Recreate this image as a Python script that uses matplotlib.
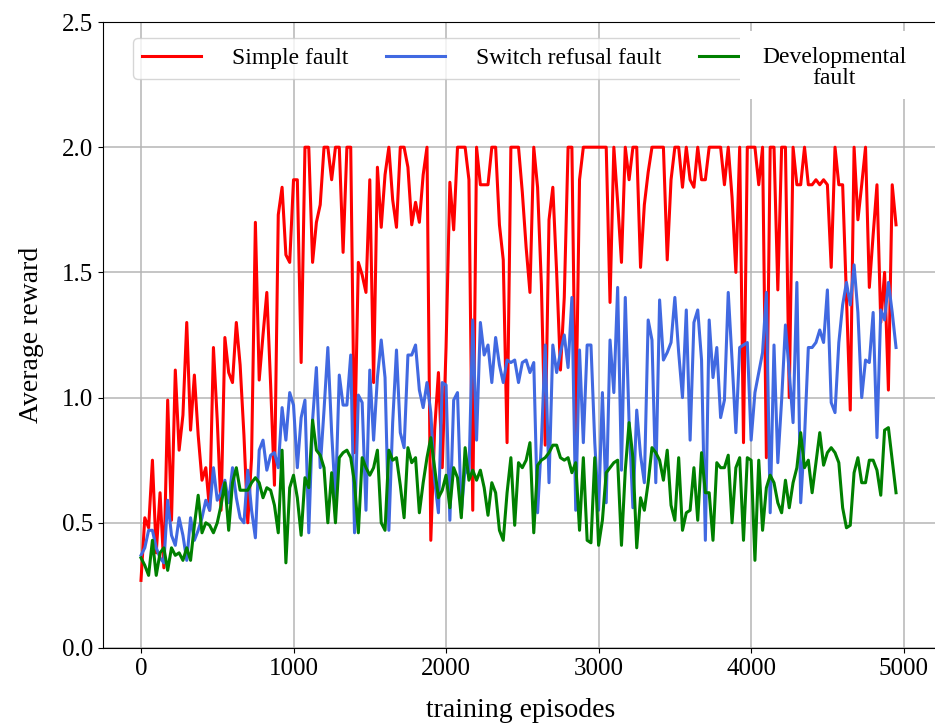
import numpy as np
import matplotlib
matplotlib.use('Agg')
import matplotlib.pyplot as plt
from matplotlib.patches import Rectangle

# logged every 25 training episodes
episodes = np.arange(0, 4975, 25)

simple_fault = [
    0.27, 0.52, 0.48, 0.75, 0.38, 0.62, 0.32, 0.99, 0.51, 1.11,
    0.79, 0.93, 1.30, 0.87, 1.09, 0.85, 0.67, 0.72, 0.55, 1.20,
    0.91, 0.55, 1.24, 1.10, 1.06, 1.30, 1.13, 0.85, 0.50, 0.76,
    1.70, 1.07, 1.25, 1.42, 1.05, 0.65, 1.73, 1.84, 1.57, 1.54,
    1.87, 1.87, 1.14, 2.00, 2.00, 1.54, 1.70, 1.77, 2.00, 2.00,
    1.87, 2.00, 2.00, 1.58, 2.00, 2.00, 0.78, 1.54, 1.49, 1.42,
    1.87, 1.06, 1.92, 1.68, 1.89, 2.00, 1.79, 1.68, 2.00, 2.00,
    1.92, 1.69, 1.78, 1.70, 1.89, 2.00, 0.43, 0.87, 1.10, 0.72,
    1.20, 1.86, 1.67, 2.00, 2.00, 2.00, 1.87, 0.55, 2.00, 1.85,
    1.85, 1.85, 2.00, 2.00, 1.69, 1.55, 0.82, 2.00, 2.00, 2.00,
    1.82, 1.60, 1.42, 2.00, 1.84, 1.45, 0.81, 1.71, 1.84, 1.50,
    1.11, 1.40, 2.00, 2.00, 0.85, 1.87, 2.00, 2.00, 2.00, 2.00,
    2.00, 2.00, 2.00, 1.38, 2.00, 1.78, 1.54, 2.00, 1.87, 2.00,
    2.00, 1.52, 1.77, 1.90, 2.00, 2.00, 2.00, 2.00, 1.55, 1.87,
    2.00, 2.00, 1.84, 2.00, 1.87, 1.84, 2.00, 1.87, 1.87, 2.00,
    2.00, 2.00, 2.00, 1.85, 2.00, 1.80, 1.50, 2.00, 0.82, 2.00,
    2.00, 2.00, 1.85, 2.00, 0.76, 2.00, 2.00, 1.43, 2.00, 2.00,
    1.00, 2.00, 1.85, 1.85, 2.00, 1.85, 1.85, 1.87, 1.85, 1.87,
    1.85, 1.52, 2.00, 1.85, 1.85, 1.40, 0.95, 2.00, 1.71, 1.85,
    2.00, 1.44, 1.65, 1.85, 1.30, 1.50, 1.03, 1.85, 1.69,
]

switch_refusal_fault = [
    0.37, 0.40, 0.47, 0.47, 0.40, 0.36, 0.34, 0.59, 0.45, 0.41,
    0.52, 0.45, 0.35, 0.52, 0.43, 0.47, 0.52, 0.59, 0.55, 0.72,
    0.59, 0.62, 0.67, 0.58, 0.72, 0.60, 0.52, 0.50, 0.71, 0.55,
    0.44, 0.79, 0.83, 0.71, 0.77, 0.78, 0.72, 0.96, 0.83, 1.02,
    0.97, 0.72, 0.92, 0.99, 0.46, 0.91, 1.12, 0.72, 0.95, 1.20,
    0.86, 0.59, 1.09, 0.97, 0.97, 1.17, 0.46, 1.01, 0.98, 0.55,
    1.11, 0.83, 1.08, 1.23, 1.08, 0.47, 0.90, 1.19, 0.86, 0.80,
    1.17, 1.17, 1.21, 1.03, 0.96, 1.06, 0.94, 0.67, 0.54, 1.06,
    1.05, 0.51, 0.99, 1.02, 0.54, 0.72, 0.69, 1.31, 0.83, 1.30,
    1.17, 1.21, 1.06, 1.24, 1.13, 1.06, 1.15, 1.14, 1.15, 1.06,
    1.14, 1.15, 1.10, 1.14, 0.54, 0.82, 1.21, 0.66, 1.21, 1.10,
    1.18, 1.25, 1.12, 1.40, 0.55, 1.19, 0.82, 1.21, 1.21, 0.82,
    0.55, 1.02, 0.58, 1.23, 1.02, 1.44, 0.71, 1.40, 0.90, 0.56,
    0.95, 0.77, 0.66, 1.31, 1.23, 0.66, 1.39, 1.15, 1.18, 1.22,
    1.40, 1.18, 1.00, 1.35, 0.83, 1.30, 1.35, 1.15, 0.43, 1.31,
    1.08, 1.20, 0.92, 0.99, 1.42, 1.15, 0.86, 1.20, 1.21, 1.22,
    0.83, 1.02, 1.10, 1.18, 1.42, 0.54, 1.21, 0.74, 0.99, 1.29,
    1.10, 0.90, 1.46, 0.58, 0.84, 1.20, 1.20, 1.22, 1.27, 1.22,
    1.43, 0.98, 0.94, 1.22, 1.37, 1.46, 1.37, 1.53, 1.34, 1.00,
    1.15, 1.14, 1.34, 0.84, 1.35, 1.31, 1.46, 1.34, 1.20,
]

developmental_fault = [
    0.36, 0.33, 0.29, 0.43, 0.29, 0.38, 0.40, 0.31, 0.40, 0.37,
    0.38, 0.35, 0.40, 0.35, 0.49, 0.61, 0.46, 0.50, 0.49, 0.46,
    0.50, 0.57, 0.66, 0.47, 0.66, 0.72, 0.63, 0.63, 0.63, 0.66,
    0.68, 0.66, 0.60, 0.64, 0.63, 0.57, 0.46, 0.79, 0.34, 0.64,
    0.69, 0.60, 0.45, 0.68, 0.64, 0.91, 0.79, 0.77, 0.72, 0.50,
    0.70, 0.50, 0.76, 0.78, 0.79, 0.76, 0.66, 0.46, 0.76, 0.72,
    0.69, 0.72, 0.79, 0.50, 0.47, 0.79, 0.75, 0.76, 0.65, 0.52,
    0.80, 0.74, 0.76, 0.54, 0.66, 0.76, 0.84, 0.72, 0.60, 0.63,
    0.69, 0.56, 0.72, 0.68, 0.52, 0.80, 0.67, 0.71, 0.67, 0.71,
    0.64, 0.53, 0.66, 0.62, 0.47, 0.43, 0.62, 0.76, 0.49, 0.74,
    0.72, 0.75, 0.82, 0.46, 0.73, 0.75, 0.76, 0.78, 0.81, 0.81,
    0.76, 0.75, 0.76, 0.70, 0.74, 0.47, 0.76, 0.43, 0.42, 0.76,
    0.41, 0.51, 0.70, 0.72, 0.74, 0.75, 0.41, 0.71, 0.90, 0.76,
    0.40, 0.60, 0.55, 0.66, 0.80, 0.78, 0.75, 0.67, 0.79, 0.57,
    0.51, 0.76, 0.47, 0.54, 0.55, 0.72, 0.51, 0.78, 0.62, 0.62,
    0.43, 0.74, 0.72, 0.72, 0.77, 0.50, 0.72, 0.76, 0.43, 0.76,
    0.75, 0.35, 0.75, 0.47, 0.64, 0.69, 0.66, 0.58, 0.54, 0.67,
    0.56, 0.66, 0.72, 0.86, 0.72, 0.75, 0.62, 0.74, 0.86, 0.73,
    0.78, 0.80, 0.78, 0.74, 0.56, 0.48, 0.49, 0.70, 0.76, 0.66,
    0.66, 0.75, 0.75, 0.71, 0.61, 0.87, 0.88, 0.75, 0.62,
]

x_ticks = [0, 1000, 2000, 3000, 4000, 5000]
y_ticks = [0.0, 0.5, 1.0, 1.5, 2.0, 2.5]

plt.rcParams['font.family'] = ['Liberation Serif', 'DejaVu Serif']

fig = plt.figure(figsize=(9.35, 7.24), dpi=100)
ax = fig.add_axes([0.110, 0.105, 0.894, 0.8646])

ax.plot(episodes, simple_fault, color='#ff0000', lw=2.2, label='Simple fault')
ax.plot(episodes, switch_refusal_fault, color='#4169e1', lw=2.2,
        label='Switch refusal fault')
ax.plot(episodes, developmental_fault, color='#008000', lw=2.2, label=' ')

ax.set_xlim(-250, 5230)
ax.set_ylim(0, 2.5)
ax.set_xticks(x_ticks)
ax.set_yticks(y_ticks)
ax.set_yticklabels([f'{v:.1f}' for v in y_ticks])
ax.tick_params(labelsize=18)
ax.grid(True, color='#b5b5b5', lw=1.1)

ax.set_xlabel('training episodes', fontsize=20)
ax.set_ylabel('Average reward', fontsize=20)
ax.xaxis.set_label_coords(0.5, -0.080)
ax.yaxis.set_label_coords(-0.071, 0.5)

ax.legend(loc='upper left', bbox_to_anchor=(0.036, 0.974), ncol=3, fontsize=17,
          borderaxespad=0, handlelength=2.5, handletextpad=1.3, columnspacing=1.6)

# two-line label for the third legend entry, on a plain white box
fig.add_artist(Rectangle((0.7914, 0.8633), 0.1765, 0.0939, transform=fig.transFigure,
                         facecolor='white', edgecolor='none', zorder=3))
fig.text(0.892, 0.906, 'Developmental\nfault', ha='center', va='center',
         fontsize=17, linespacing=1.05, zorder=4)

fig.savefig('out.png', dpi=100)
